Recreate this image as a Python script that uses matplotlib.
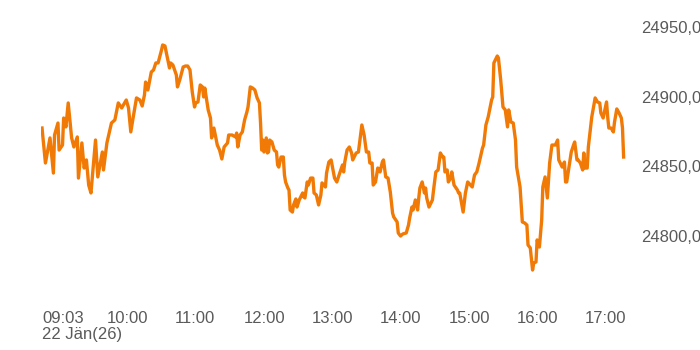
"""
Intraday line chart, 22 Jan 2026 (09:03 - 17:34)
"""
import numpy as np
import pandas as pd
import matplotlib
matplotlib.use("Agg")
from matplotlib import pyplot as plt
from matplotlib.ticker import FuncFormatter

# minutes after 09:00
minutes = [
    3, 6, 10, 13, 14, 17, 18, 21, 22, 24, 26, 29,
    31, 34, 35, 38, 40, 42, 44, 46, 50, 52, 56, 57,
    60, 64, 67, 70, 73, 77, 79, 81, 83, 86, 89, 91,
    93, 94, 96, 99, 101, 103, 105, 108, 109, 111, 113, 115,
    116, 118, 121, 122, 124, 127, 129, 131, 133, 135, 137, 138,
    140, 142, 144, 145, 146, 149, 151, 152, 154, 157, 159, 161,
    163, 166, 167, 170, 173, 174, 175, 177, 179, 181, 183, 184,
    186, 188, 190, 192, 194, 195, 196, 197, 198, 200, 201, 202,
    203, 205, 207, 209, 210, 211, 213, 215, 216, 217, 219, 220,
    221, 223, 224, 226, 227, 229, 232, 233, 234, 236, 237, 239,
    241, 242, 244, 246, 248, 249, 252, 253, 255, 257, 259, 260,
    262, 264, 267, 268, 269, 271, 273, 275, 276, 279, 281, 282,
    284, 286, 288, 290, 291, 293, 294, 296, 298, 300, 302, 303,
    305, 307, 309, 311, 312, 315, 316, 318, 320, 323, 325, 326,
    328, 329, 331, 333, 334, 335, 337, 339, 340, 341, 343, 346,
    347, 349, 351, 353, 355, 356, 357, 359, 360, 362, 363, 365,
    368, 369, 370, 373, 375, 377, 381, 383, 385, 387, 390, 391,
    393, 395, 398, 399, 400, 403, 404, 406, 408, 410, 412, 413,
    415, 417, 419, 420, 423, 425, 427, 429, 430, 432, 434, 435,
    437, 438, 440, 442, 443, 445, 447, 448, 449, 451, 454, 456,
    457, 460, 462, 463, 464, 466, 468, 470, 471, 473, 474, 476,
    478, 479, 480, 482, 483, 485, 486, 489, 491, 493, 494, 496,
    499, 500, 501, 503, 505, 506, 508, 510, 512, 513, 514,
]

prices = [
    24877.5, 24852.4, 24870.4, 24845.2, 24872.5, 24881.1, 24861.7, 24865.3, 24884.7, 24878.3, 24895.5, 24870.4,
    24863.9, 24871.1, 24841.6, 24866.8, 24848.8, 24854.6, 24836.6, 24830.9, 24868.9, 24842.4, 24860.3, 24847.4,
    24866.8, 24881.1, 24883.3, 24895.5, 24891.9, 24897.6, 24891.9, 24874.7, 24884.7, 24899.1, 24897.6, 24893.3,
    24901.2, 24910.5, 24904.8, 24917.7, 24919.2, 24924.2, 24924.2, 24933.5, 24937.1, 24936.4, 24928.5, 24920.6,
    24924.2, 24922.7, 24915.6, 24907.0, 24912.0, 24921.3, 24922.0, 24922.0, 24919.2, 24903.4, 24892.6, 24895.5,
    24896.2, 24908.4, 24907.0, 24899.8, 24906.2, 24890.5, 24884.7, 24870.4, 24877.5, 24865.3, 24861.7, 24855.3,
    24863.9, 24866.8, 24872.5, 24872.5, 24871.1, 24873.9, 24863.9, 24872.5, 24874.7, 24883.3, 24889.0, 24892.6,
    24907.0, 24906.2, 24904.8, 24899.1, 24895.5, 24881.1, 24861.7, 24868.9, 24860.3, 24870.4, 24859.6, 24860.3,
    24868.9, 24867.5, 24861.7, 24860.3, 24851.0, 24849.5, 24856.7, 24856.7, 24843.8, 24838.8, 24834.5, 24833.0,
    24818.7, 24817.2, 24822.3, 24826.6, 24820.8, 24825.9, 24830.9, 24828.0, 24827.3, 24838.8, 24836.6, 24841.6,
    24841.6, 24830.9, 24829.5, 24822.3, 24829.5, 24838.1, 24835.2, 24845.2, 24853.1, 24854.6, 24846.0, 24841.6,
    24838.8, 24843.8, 24851.0, 24846.0, 24853.1, 24861.7, 24863.9, 24859.6, 24854.6, 24859.6, 24860.3, 24866.8,
    24879.7, 24872.5, 24860.3, 24860.3, 24852.4, 24852.4, 24836.6, 24838.8, 24848.8, 24846.0, 24853.1, 24854.6,
    24842.4, 24841.6, 24831.6, 24816.5, 24813.7, 24810.1, 24802.2, 24800.0, 24801.5, 24802.2, 24807.9, 24812.9,
    24820.8, 24818.7, 24825.9, 24818.7, 24827.3, 24834.5, 24838.8, 24830.9, 24834.5, 24827.3, 24820.8, 24825.9,
    24833.0, 24846.0, 24847.4, 24859.6, 24856.7, 24856.7, 24846.0, 24847.4, 24838.8, 24841.6, 24846.0, 24836.6,
    24833.0, 24830.9, 24830.9, 24817.2, 24830.9, 24838.8, 24835.2, 24843.8, 24846.0, 24852.4, 24863.2, 24865.3,
    24879.7, 24885.4, 24897.6, 24899.8, 24924.2, 24929.2, 24927.8, 24912.0, 24892.6, 24890.5, 24878.3, 24890.5,
    24881.8, 24881.1, 24868.9, 24849.5, 24835.2, 24810.1, 24809.4, 24807.9, 24793.6, 24791.4, 24775.6, 24780.6,
    24781.4, 24797.2, 24792.1, 24811.5, 24835.2, 24842.4, 24827.3, 24840.2, 24852.4, 24865.3, 24865.3, 24868.9,
    24854.6, 24849.5, 24853.1, 24838.8, 24838.8, 24849.5, 24860.3, 24865.3, 24867.5, 24854.6, 24854.6, 24852.4,
    24847.4, 24859.6, 24848.8, 24848.8, 24863.9, 24878.3, 24885.4, 24899.1, 24896.2, 24895.5, 24888.3, 24884.7,
    24896.2, 24885.4, 24877.5, 24877.5, 24874.7, 24881.8, 24891.2, 24888.3, 24884.7, 24877.5, 24856.7,
]

tick_times = ['09:03', '10:00', '11:00', '12:00', '13:00', '14:00', '15:00', '16:00', '17:00']
tick_labels = ['09:03\n22 Jän(26)', '10:00', '11:00', '12:00', '13:00', '14:00', '15:00', '16:00', '17:00']
y_ticks = [24800, 24850, 24900, 24950]

day = pd.Timestamp('2026-01-22 09:00')
times = day + pd.to_timedelta(minutes, unit='min')
ticks = pd.to_datetime(['2026-01-22 ' + t for t in tick_times])

plt.rcParams['font.family'] = ['Liberation Sans', 'DejaVu Sans']

fig = plt.figure(figsize=(7, 3.5), dpi=100)
ax = fig.add_axes([41 / 700, 50 / 350, 589 / 700, 290 / 350])

ax.plot(times, prices, color='#f07a05', lw=2.4, solid_joinstyle='round')

ax.set_xlim(day + pd.Timedelta(minutes=2.1), day + pd.Timedelta(minutes=519.6))
ax.set_ylim(24754.1, 24962.2)

ax.set_xticks(ticks)
ax.set_xticklabels(tick_labels, ha='left', fontsize=12, color='#5a5a5a', linespacing=1.1)
ax.set_yticks(y_ticks)
ax.yaxis.set_major_formatter(FuncFormatter(lambda v, p: f'{v:.2f}'.replace('.', ',')))
ax.yaxis.tick_right()
ax.tick_params(axis='y', length=0, pad=8, labelsize=12, labelcolor='#5a5a5a')
ax.tick_params(axis='x', length=0, pad=8)

for s in ax.spines.values():
    s.set_visible(False)

fig.savefig('out.png', dpi=100)
